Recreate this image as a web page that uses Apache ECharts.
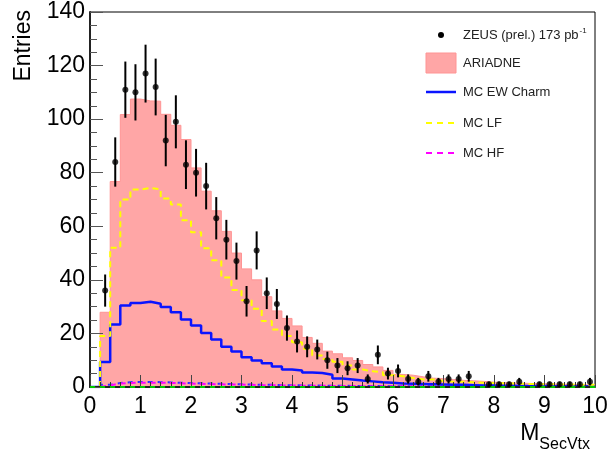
<!DOCTYPE html>
<html><head><meta charset="utf-8">
<script src="https://cdn.jsdelivr.net/npm/echarts@6/dist/echarts.min.js"></script>
<style>html,body{margin:0;padding:0;background:#fff}#c{width:608px;height:455px}</style>
</head><body><div id="c"></div>
<script>
// ---- data ----
const binEdges = [0,0.2,0.4,0.6,0.8,1,1.2,1.4,1.6,1.8,2,2.2,2.4,2.6,2.8,3,3.2,3.4,3.6,3.8,4,4.2,4.4,4.6,4.8,5,5.2,5.4,5.6,5.8,6,6.2,6.4,6.6,6.8,7,7.2,7.4,7.6,7.8,8,8.2,8.4,8.6,8.8,9,9.2,9.4,9.6,9.8,10];
const binCenters = [0.1,0.3,0.5,0.7,0.9,1.1,1.3,1.5,1.7,1.9,2.1,2.3,2.5,2.7,2.9,3.1,3.3,3.5,3.7,3.9,4.1,4.3,4.5,4.7,4.9,5.1,5.3,5.5,5.7,5.9,6.1,6.3,6.5,6.7,6.9,7.1,7.3,7.5,7.7,7.9,8.1,8.3,8.5,8.7,8.9,9.1,9.3,9.5,9.7,9.9];
const zeusCounts = [null,36,84,111,110,117,112,92,99,83, 80,75,63,55,47,32,51,35,31,22, 17,15,14,10,8,7,8,3,12,5, 6,3,2,4,2,3,3,4,null,1, 1,1,2,null,1,1,1,1,1,2];
const zeusErrors = [null,6,9.2,10.5,10.5,10.8,10.6,9.6,9.9,9.1, 8.9,8.7,7.9,7.4,6.9,5.7,7.1,5.9,5.6,4.7, 4.1,3.9,3.7,3.2,2.8,2.6,2.8,1.7,3.5,2.2, 2.4,1.7,1.4,2,1.4,1.7,1.7,2,null,1, 1,1,1.4,null,1,1,1,1,1,1.4];
const ariadne = [0,27.9,76.7,101.7,107.5,106.8,106.7,101.8,97.7,92.4, 81.8,73.1,65.8,58.1,50,44.1,40,33.7,28.4,25.6, 22.8,18.5,16.3,13.4,12.4,10.9,9.9,8.4,7.5,6.2, 4.7,4.4,3.8,3.3,3.1,2.8,2.5,2.3,2.1,1.8, 1.6,1.5,1.4,1.3,1.2,1.1,1.0,0.9,0.8,0.8];
const mcEWCharm = [0,9.3,23.3,30.4,31.4,31.8,31.1,29.9,27.9,25.2, 23,20.2,17.7,15,13.3,11.1,9.9,8.9,7.7,6.5, 6.2,5.4,5.2,4.6,3.2,2.8,2.4,2.1,1.8,1.6, 1.3,1.2,1.1,1.0,0.9,0.8,0.8,0.7,0.6,0.6, 0.5,0.5,0.4,0.4,0.4,0.3,0.3,0.3,0.3,0.2];
const mcLF = [0,19,52,70,73.7,74.3,73.8,70.4,68.1,62.3, 57.8,51.8,47.3,40.9,36.2,32.4,29.2,24.6,21.5,19, 16.7,14.3,11.8,10.5,9.4,8,6.5,5.9,5.5,4.4, 4,3.4,2.8,2.8,2.2,2,2,1.8,1.6,1.5, 1.4,1.3,1.2,1.1,1.0,1.0,0.9,0.9,0.8,0.8];
const mcHF = [0,0.6,1.3,1.5,1.6,1.6,1.6,1.5,1.4,1.3, 1.2,1.1,1.0,0.9,0.9,0.8,0.7,0.7,0.6,0.6, 0.5,0.5,0.5,0.4,0.4,0.4,0.3,0.3,0.3,0.3, 0.3,0.2,0.2,0.2,0.2,0.2,0.2,0.2,0.2,0.2, 0.1,0.1,0.1,0.1,0.1,0.1,0.1,0.1,0.1,0.1];
const mcOther = [0,0.8,1.5,1.8,1.9,1.9,1.8,1.7,1.6,1.5, 1.4,1.3,1.2,1.1,1.0,0.9,0.8,0.8,0.7,0.7, 0.6,0.6,0.5,0.5,0.5,0.4,0.4,0.4,0.3,0.3, 0.3,0.3,0.3,0.2,0.2,0.2,0.2,0.2,0.2,0.2, 0.2,0.2,0.1,0.1,0.1,0.1,0.1,0.1,0.1,0.1];
const mcZero = [0,0,0,0,0,0,0,0,0,0, 0,0,0,0,0,0,0,0,0,0, 0,0,0,0,0,0,0,0,0,0, 0,0,0,0,0,0,0,0,0,0, 0,0,0,0,0,0,0,0,0,0];
const legendLabels = ['ZEUS (prel.) 173 pb', 'ARIADNE', 'MC EW Charm', 'MC LF', 'MC HF'];
const xTitle = ['M', 'SecVtx'];
const yTitle = 'Entries';

// ---- build ----
const FONT = "'Liberation Sans', Arial, Helvetica, sans-serif";
function histData(vals){
  const d = vals.map((v,i)=>[binEdges[i], v]);
  d.push([binEdges[binEdges.length-1], vals[vals.length-1]]);
  return d;
}
const pts = [];
zeusCounts.forEach((v,i)=>{ if(v!==null) pts.push([binCenters[i], v, zeusErrors[i]]); });

const cv = document.createElement('canvas').getContext('2d');
function tw(text, size){ cv.font = size + 'px ' + FONT; return cv.measureText(text).width; }

const chart = echarts.init(document.getElementById('c'), null, {renderer:'canvas'});
function histSeries(vals, color, width, type, extra){
  return Object.assign({
    type:'line', step:'end', data:histData(vals), symbol:'none', silent:true, animation:false,
    lineStyle:{color:color, width:width, type:type}
  }, extra||{});
}
const lgX = 426, lgTx = 463;
const lgY = [35, 63, 92, 123, 153];
const subW = tw(xTitle[1], 16);
const zeusW = tw(legendLabels[0], 13);

chart.setOption({
  animation:false,
  backgroundColor:'#fff',
  grid:{left:90, right:13, top:12, bottom:68, show:true, borderColor:'#000', borderWidth:1, outerBoundsMode:'none', containLabel:false},
  xAxis:{type:'value', min:0, max:10, interval:1, z:10,
    axisLine:{show:true, onZero:false, lineStyle:{color:'#222', width:2}},
    axisTick:{show:true, inside:true, length:12, lineStyle:{color:'#444', width:1}},
    minorTick:{show:true, splitNumber:5, length:5, lineStyle:{color:'#333', width:1}},
    splitLine:{show:false},
    axisLabel:{fontSize:23, color:'#000', fontFamily:FONT, margin:8, showMinLabel:true, showMaxLabel:true}},
  yAxis:{type:'value', min:0, max:140, interval:20, z:10,
    axisLine:{show:true, onZero:false, lineStyle:{color:'#222', width:2}},
    axisTick:{show:true, inside:true, length:13, lineStyle:{color:'#555', width:1}},
    minorTick:{show:true, splitNumber:4, length:7, lineStyle:{color:'#555', width:1}},
    splitLine:{show:false},
    axisLabel:{fontSize:23, color:'#000', fontFamily:FONT, margin:5, showMinLabel:true, showMaxLabel:true}},
  series:[
    histSeries(ariadne, '#ff9494', 1, 'solid', {name:legendLabels[1], areaStyle:{color:'#ffa6a6', opacity:1}}),
    histSeries(mcZero, '#00cc00', 2, [5,5], {z:11}),
    histSeries(mcOther, '#2233ff', 2, [5,5], {z:3}),
    histSeries(mcHF, '#ff00ff', 2, [6,4], {name:legendLabels[4], z:4}),
    histSeries(mcEWCharm, '#0a14ff', 2.5, 'solid', {name:legendLabels[2], z:5}),
    histSeries(mcLF, '#ffff00', 2, [6,4], {name:legendLabels[3], z:6}),
    {type:'custom', name:'err', data:pts, z:12, silent:true, animation:false,
      encode:{x:0, y:1},
      renderItem:function(params, api){
        const x = api.value(0), y = api.value(1), e = api.value(2);
        const p1 = api.coord([x, Math.max(0, y-e)]), p2 = api.coord([x, y+e]);
        return {type:'line', shape:{x1:p1[0], y1:p1[1], x2:p2[0], y2:p2[1]}, style:{stroke:'#000', lineWidth:2}};
      }},
    {type:'scatter', name:legendLabels[0], data:pts.map(p=>[p[0],p[1]]), symbol:'circle', symbolSize:6, z:13, silent:true, animation:false,
      itemStyle:{color:'#000'}}
  ],
  graphic:[
    {type:'text', x:24, y:10, rotation:Math.PI/2, z:100,
      style:{text:yTitle, font:'23px '+FONT, fill:'#000', align:'right', verticalAlign:'middle'}},
    {type:'text', x:590 - subW, y:434, z:100,
      style:{text:xTitle[0], font:'23px '+FONT, fill:'#000', align:'right', verticalAlign:'middle'}},
    {type:'text', x:590, y:445, z:100,
      style:{text:xTitle[1], font:'16px '+FONT, fill:'#000', align:'right', verticalAlign:'middle'}},
    // legend
    {type:'circle', shape:{cx:lgX+15, cy:lgY[0], r:3}, style:{fill:'#000'}, z:100},
    {type:'text', x:lgTx, y:lgY[0], z:100, style:{text:legendLabels[0], font:'13px '+FONT, fill:'#222', verticalAlign:'middle'}},
    {type:'text', x:lgTx+zeusW+1, y:lgY[0]-4, z:100, style:{text:'-1', font:'8px '+FONT, fill:'#222', verticalAlign:'middle'}},
    {type:'rect', shape:{x:lgX, y:lgY[1]-10, width:30, height:20}, style:{fill:'#ffa6a6', stroke:'#ff9494', lineWidth:1}, z:100},
    {type:'text', x:lgTx, y:lgY[1], z:100, style:{text:legendLabels[1], font:'13px '+FONT, fill:'#222', verticalAlign:'middle'}},
    {type:'line', shape:{x1:lgX, y1:lgY[2], x2:lgX+30, y2:lgY[2]}, style:{stroke:'#0a14ff', lineWidth:2.5}, z:100},
    {type:'text', x:lgTx, y:lgY[2], z:100, style:{text:legendLabels[2], font:'13px '+FONT, fill:'#222', verticalAlign:'middle'}},
    {type:'line', shape:{x1:lgX, y1:lgY[3], x2:lgX+30, y2:lgY[3]}, style:{stroke:'#ffff00', lineWidth:2, lineDash:[6,5]}, z:100},
    {type:'text', x:lgTx, y:lgY[3], z:100, style:{text:legendLabels[3], font:'13px '+FONT, fill:'#222', verticalAlign:'middle'}},
    {type:'line', shape:{x1:lgX, y1:lgY[4], x2:lgX+30, y2:lgY[4]}, style:{stroke:'#ff00ff', lineWidth:2, lineDash:[6,5]}, z:100},
    {type:'text', x:lgTx, y:lgY[4], z:100, style:{text:legendLabels[4], font:'13px '+FONT, fill:'#222', verticalAlign:'middle'}}
  ]
});
</script></body></html>
